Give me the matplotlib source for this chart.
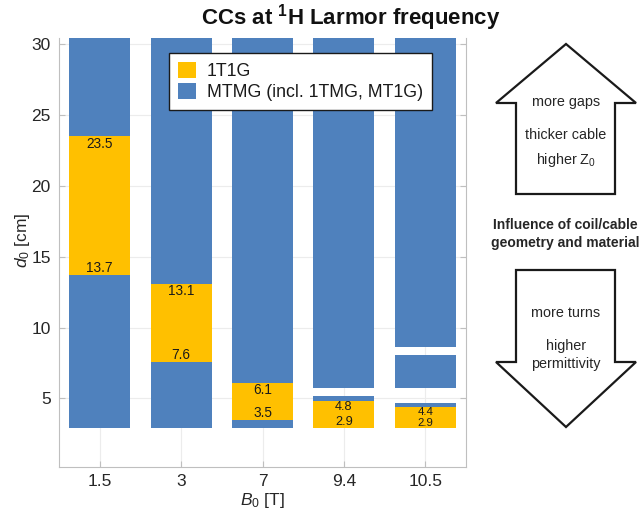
import matplotlib
matplotlib.use("Agg")
import matplotlib.pyplot as plt
from matplotlib.patches import Polygon, Patch

plt.rcParams['font.family'] = ['Liberation Sans', 'DejaVu Sans']
plt.rcParams['mathtext.fontset'] = 'custom'
plt.rcParams['mathtext.rm'] = 'Liberation Sans'
plt.rcParams['mathtext.it'] = 'Liberation Sans:italic'
plt.rcParams['mathtext.bf'] = 'Liberation Sans:bold'

# ---- data ----
B0_labels = ['1.5', '3', '7', '9.4', '10.5']
t1g_low = [13.7, 7.6, 3.5, 2.9, 2.9]
t1g_high = [23.5, 13.1, 6.1, 4.8, 4.4]
mtmg_low = [[2.9, 23.5], [2.9, 13.1], [2.9, 6.1], [4.8, 5.7], [4.4, 5.7, 8.6]]
mtmg_high = [[13.7, 30.5], [7.6, 30.5], [3.5, 30.5], [5.15, 30.5], [4.65, 8.05, 30.5]]

YELLOW = '#FFC000'
BLUE = '#4F81BD'
GRAY = '#bfbfbf'
TXT = '#262626'

fig = plt.figure(figsize=(6.39, 5.16), dpi=100)
W, H = 639, 516
ax = fig.add_axes([59 / W, 1 - 467 / H, 407 / W, 429 / H])

xpos = list(range(1, len(B0_labels) + 1))
bw = 0.75
for i, x in enumerate(xpos):
    for lo, hi in zip(mtmg_low[i], mtmg_high[i]):
        ax.bar(x, hi - lo, bottom=lo, width=bw, color=BLUE, zorder=2, linewidth=0)
    ax.bar(x, t1g_high[i] - t1g_low[i], bottom=t1g_low[i], width=bw, color=YELLOW,
           zorder=3, linewidth=0)
    span = t1g_high[i] - t1g_low[i]
    fs = 9.8 if span > 2.0 else (9.2 if span > 1.7 else 8.2)
    ax.text(x, t1g_high[i] - 0.02, f"{t1g_high[i]:.1f}", ha='center', va='top',
            fontsize=fs, color='#1a1a1a', zorder=4)
    ax.text(x, t1g_low[i] - 0.02, f"{t1g_low[i]:.1f}", ha='center', va='bottom',
            fontsize=fs, color='#1a1a1a', zorder=4)

ax.set_xlim(0.5, 5.5)
ax.set_ylim(0.15, 30.45)
ax.set_xticks(xpos)
ax.set_xticklabels(B0_labels)
ax.set_yticks([5, 10, 15, 20, 25, 30])
ax.tick_params(axis='both', labelsize=12.5, colors=GRAY, labelcolor=TXT, direction='in',
               length=4, width=0.8)
ax.tick_params(axis='y', right=True, pad=6)
ax.tick_params(axis='x', pad=5)
ax.grid(True, color='#ececec', linewidth=0.8, zorder=0)
ax.set_axisbelow(True)
for s in ['left', 'bottom', 'right']:
    ax.spines[s].set_color(GRAY)
    ax.spines[s].set_linewidth(0.8)
ax.spines['top'].set_visible(False)

fig.text(22 / W, 1 - 240 / H, r'$d_0$ [cm]', rotation=90, ha='center', va='center',
         fontsize=12.5, color=TXT)
fig.text(262 / W, 1 - 501 / H, r'$B_0$ [T]', ha='center', va='center',
         fontsize=12.5, color=TXT)

handles = [Patch(facecolor=YELLOW, edgecolor='none', label='1T1G'),
           Patch(facecolor=BLUE, edgecolor='none', label='MTMG (incl. 1TMG, MT1G)')]
leg = fig.legend(handles=handles, loc='center', bbox_to_anchor=(300.5 / W, 1 - 81.5 / H),
                 fontsize=12.8, frameon=True, fancybox=False, framealpha=1,
                 edgecolor='#1a1a1a', borderpad=0.5, handlelength=1.0, handleheight=1.0,
                 handletextpad=0.6, labelspacing=0.15)
leg.get_frame().set_linewidth(1.0)
for t in leg.get_texts():
    t.set_color('#1a1a1a')

fig.text(351 / W, 1 - 18 / H, r'CCs at $^{\mathbf{1}}$H Larmor frequency', ha='center',
         va='center', fontsize=16, fontweight='bold', color='#111111')

# ---- right annotation ----
ov = fig.add_axes([0, 0, 1, 1], facecolor='none')
ov.set_xlim(0, W)
ov.set_ylim(H, 0)
ov.axis('off')
up = [(516, 194), (516, 103), (496, 103), (566, 44), (636, 103), (615, 103), (615, 194)]
down = [(516, 270), (516, 362), (496, 362), (566, 427), (636, 362), (615, 362), (615, 270)]
for pts in (up, down):
    ov.add_patch(Polygon(pts, closed=True, facecolor='white', edgecolor='#1a1a1a',
                         linewidth=1.6, clip_on=False))
kw = dict(ha='center', va='center', fontsize=10.4, color='#262626')
ov.text(566, 102, 'more gaps', **kw)
ov.text(566, 135, 'thicker cable', **kw)
ov.text(566, 160, r'higher Z$_0$', **kw)
ov.text(566, 313, 'more turns', **kw)
ov.text(566, 346, 'higher', **kw)
ov.text(566, 364, 'permittivity', **kw)
ov.text(565, 225, 'Influence of coil/cable', ha='center', va='center', fontsize=10.0,
        fontweight='bold', color='#262626')
ov.text(565, 243, 'geometry and material', ha='center', va='center', fontsize=10.0,
        fontweight='bold', color='#262626')

fig.savefig('out.png', dpi=100)
